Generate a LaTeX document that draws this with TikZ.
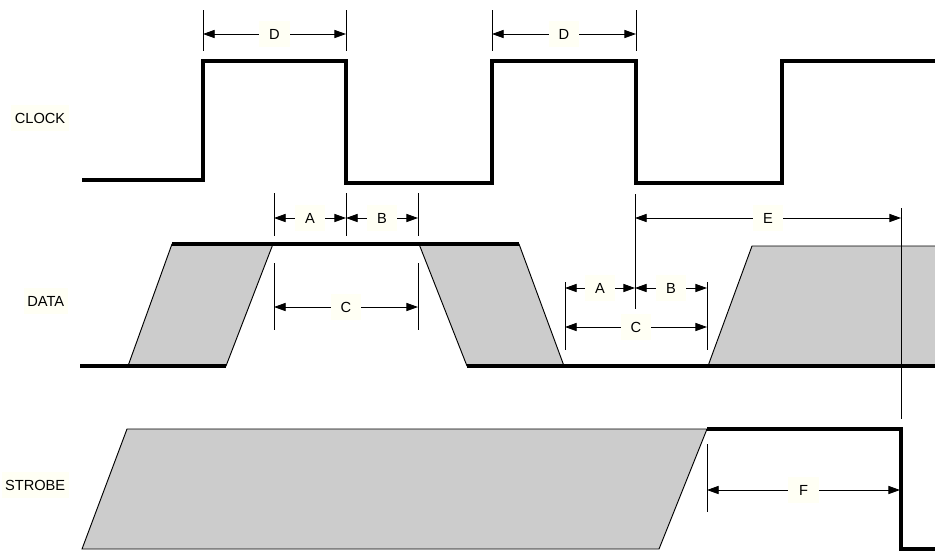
\documentclass[tikz,border=0pt]{standalone}
\usepackage{fontspec}
\setmainfont{Liberation Sans}
\usetikzlibrary{arrows.meta}

\definecolor{labelbg}{RGB}{255,255,244}
\definecolor{shade}{RGB}{204,204,204}

\tikzset{
	signal/.style={line width=2.6pt},
	edge/.style={line width=0.8pt, fill=shade},
	tick/.style={line width=0.8pt},
	dimarrow/.style={line width=0.8pt, {Triangle[length=10pt,width=7pt]}-{Triangle[length=10pt,width=7pt]}},
	dimlabel/.style={fill=labelbg, inner sep=2pt, minimum width=26, minimum height=22, font=\fontsize{12.5}{14}\selectfont},
	signame/.style={fill=labelbg, anchor=east, inner sep=3pt, minimum height=22, font=\fontsize{12.5}{14}\selectfont}
}

\begin{document}
\begin{tikzpicture}[x=0.03cm, y=-0.03cm]
		\useasboundingbox (0,0) rectangle (935,550);
		% signal names
		\node[signame] (clk) at (69,118) {CLOCK};
		\node[signame] (dat) at (68,301) {DATA};
		\node[signame] (stb) at (69,485) {STROBE};
		% clock
		\draw[signal] (82,180) -- (203,180) -- (203,61) -- (346,61) -- (346,183) -- (492,183) -- (492,61)
			-- (636,61) -- (636,183) -- (782,183) -- (782,61) -- (935,61);
		% data
		\draw[edge] (172,244) -- (273,244) -- (226,366) -- (128,366) -- cycle;
		\draw[edge] (419,244) -- (519,244) -- (564,366) -- (467,366) -- cycle;
		\draw[edge] (936,246) -- (752,246) -- (708,366) -- (936,366);
		\draw[signal] (80,366) -- (226,366);
		\draw[signal] (172,244) -- (519,244);
		\draw[signal] (467,366) -- (935,366);
		% strobe
		\draw[edge] (127,429) -- (707,429) -- (659,549) -- (82,549) -- cycle;
		\draw[signal] (707,429) -- (901,429) -- (901,549) -- (935,549);
		% D
		\foreach \x in {203,346,492,636}
			\draw[tick] (\x,10) -- (\x,51);
		\draw[dimarrow] (203,34) -- node[dimlabel] {D} (346,34);
		\draw[dimarrow] (492,34) -- node[dimlabel] {D} (636,34);
		% first A, B, C
		\foreach \x in {274,346,418}
			\draw[tick] (\x,193) -- (\x,236);
		\foreach \x in {274,418}
			\draw[tick] (\x,263) -- (\x,330);
		\draw[dimarrow] (274,218) -- node[dimlabel] {A} (346,218);
		\draw[dimarrow] (346,218) -- node[dimlabel] {B} (418,218);
		\draw[dimarrow] (274,307) -- node[dimlabel] {C} (418,307);
		% second A, B, C and E
		\draw[tick] (635,194) -- (635,309);
		\draw[tick] (565,282) -- (565,350);
		\draw[tick] (707,282) -- (707,350);
		\draw[dimarrow] (565,288) -- node[dimlabel] {A} (635,288);
		\draw[dimarrow] (635,288) -- node[dimlabel] {B} (707,288);
		\draw[dimarrow] (565,327) -- node[dimlabel] {C} (707,327);
		\draw[tick] (901,208) -- (901,419);
		\draw[dimarrow] (635,218) -- node[dimlabel] {E} (901,218);
		% F
		\draw[tick] (707,444) -- (707,512);
		\draw[dimarrow] (707,490) -- node[dimlabel] {F} (900,490);
	\end{tikzpicture}
\end{document}
